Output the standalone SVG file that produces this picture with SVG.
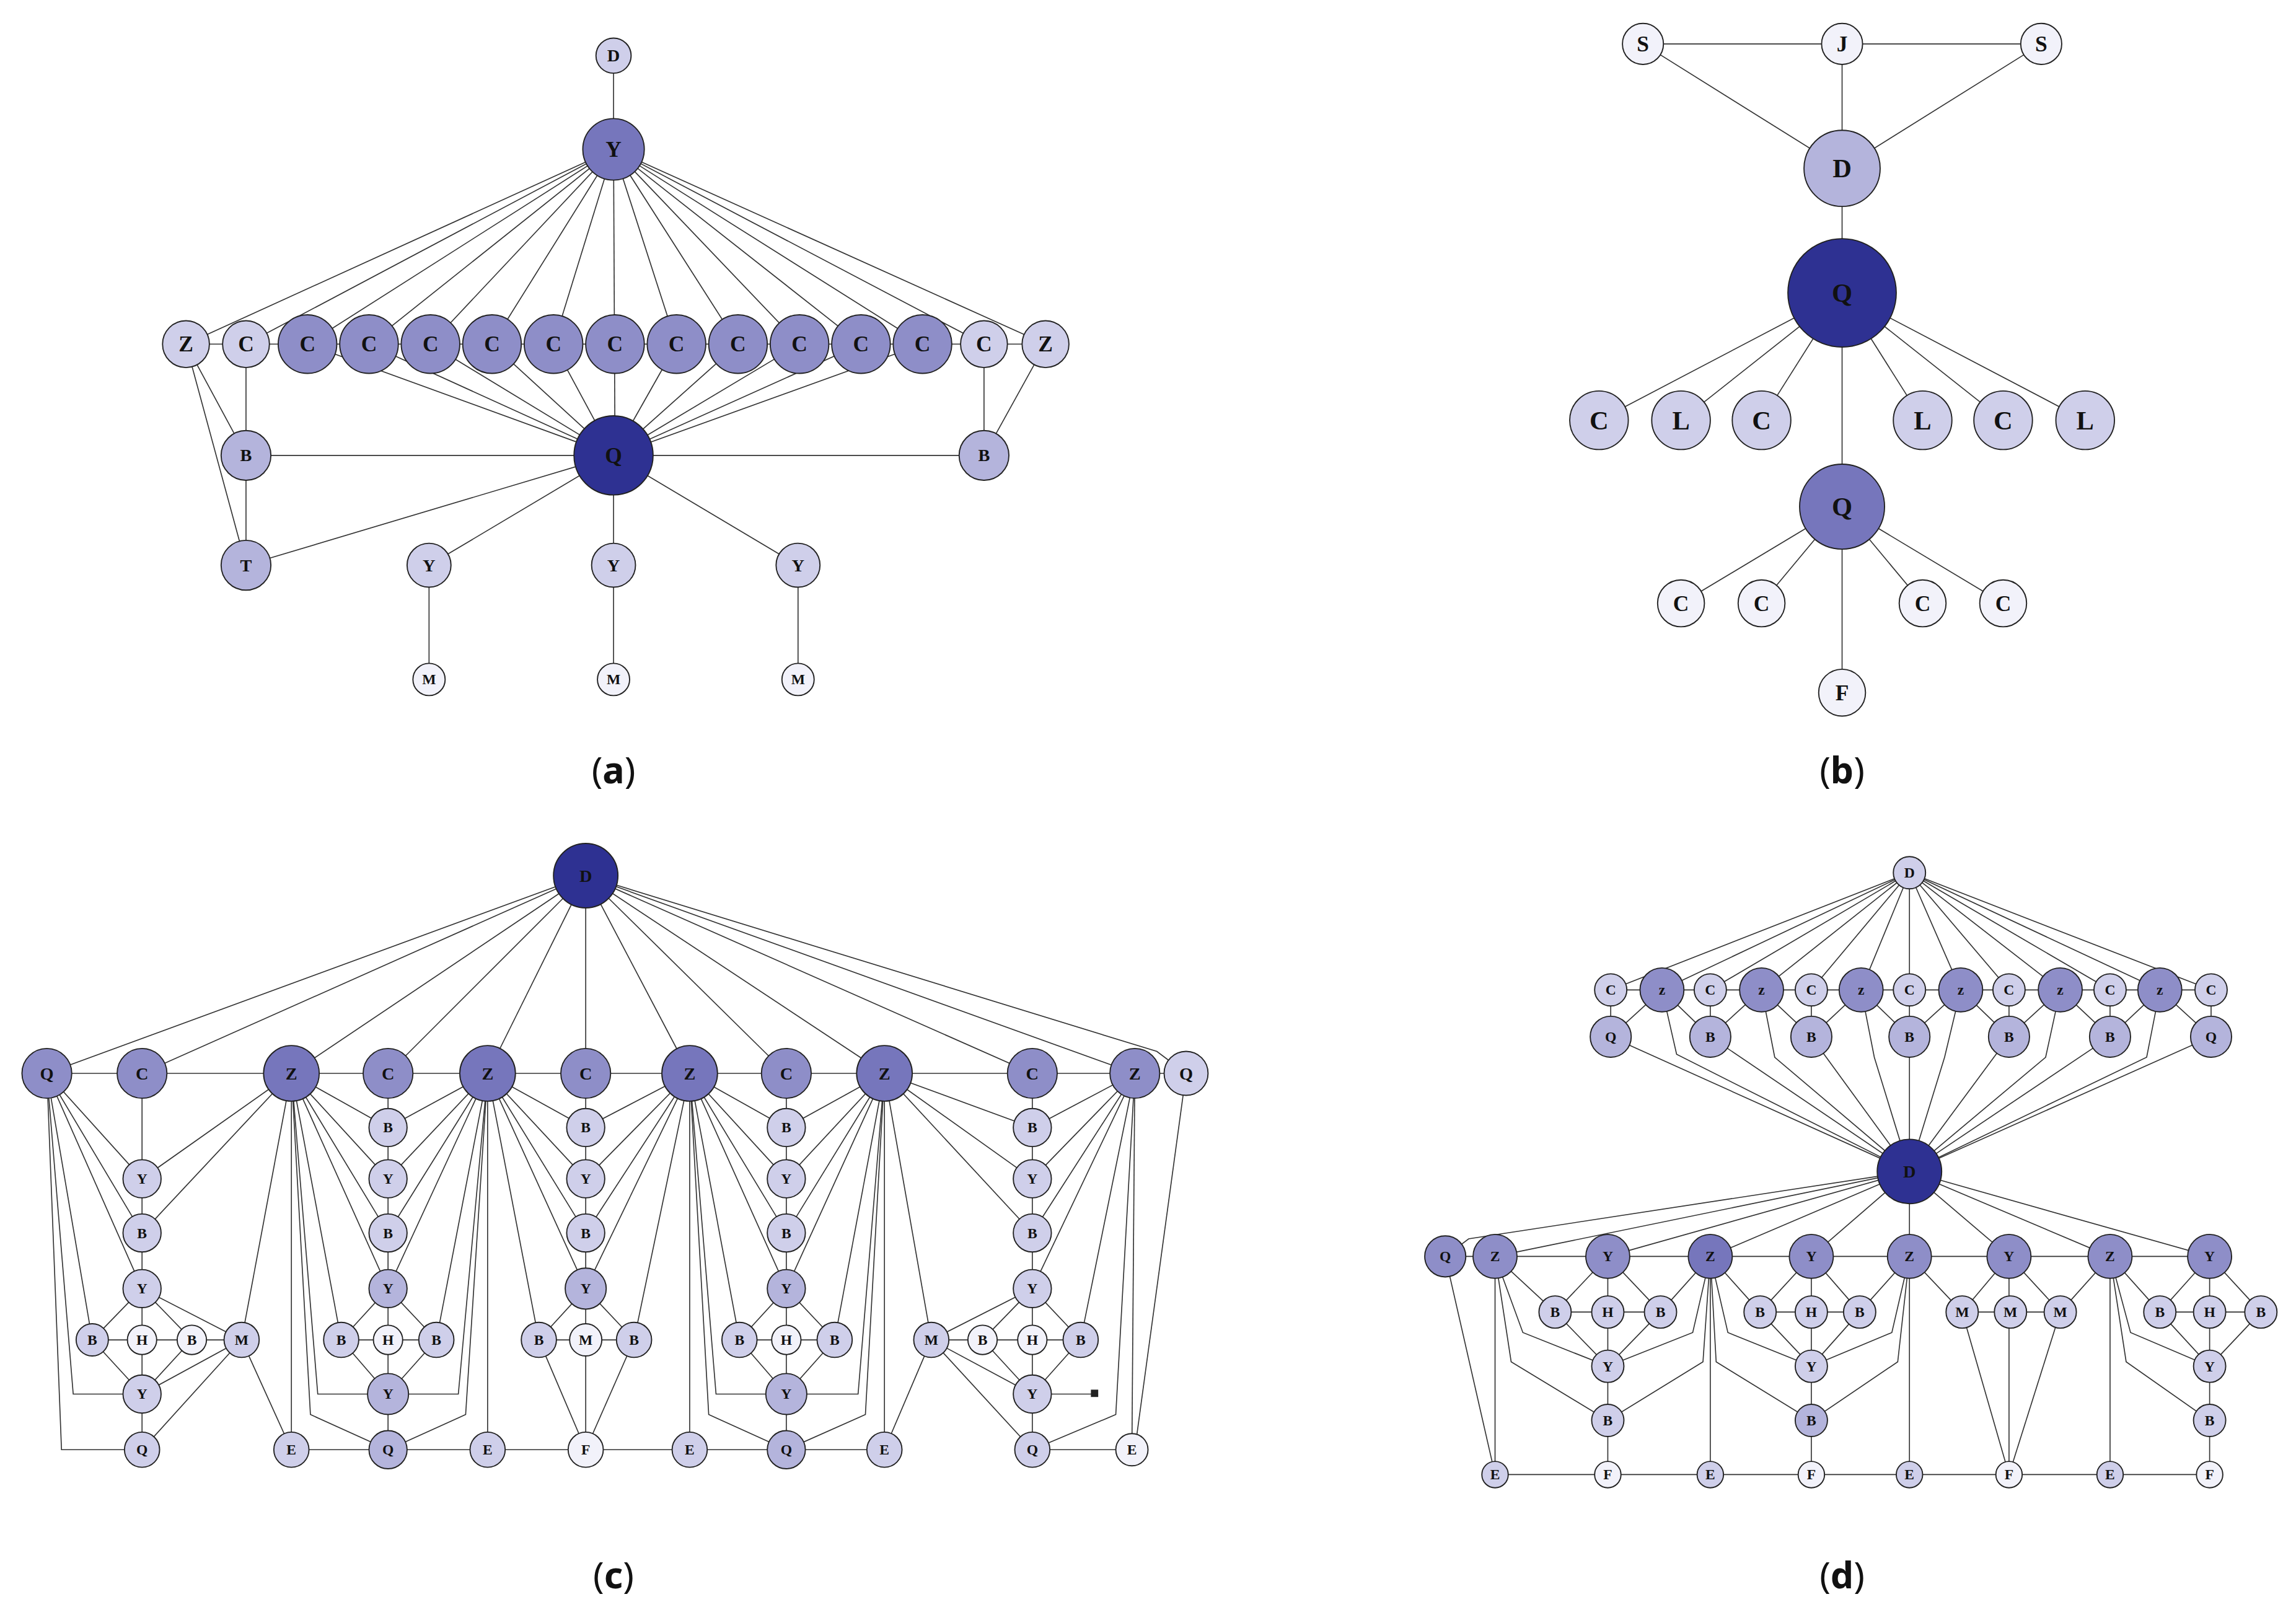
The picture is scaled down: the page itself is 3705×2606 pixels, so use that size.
<svg xmlns="http://www.w3.org/2000/svg" width="3705" height="2606" viewBox="0 0 3705 2606">
<style>
.e line,.e polyline{stroke:#333;stroke-width:0.7;fill:none}
circle{stroke:#222;stroke-width:0.8}
.k{fill:#2e3192}.m{fill:#7676bc}.n{fill:#8e8ec8}.l{fill:#b4b4dc}.p{fill:#cfcfea}.w{fill:#f2f2fa}
text{font-family:"Liberation Serif","DejaVu Serif",serif;font-weight:bold;text-anchor:middle;dominant-baseline:central;fill:#111}
.s{font-size:10px}.t{font-size:12px}.u{font-size:15px}.v{font-size:18px}
.cap{font-family:"Noto Sans","Liberation Sans",sans-serif;font-weight:normal;font-size:25px}
</style>
<rect width="3705" height="2606" fill="#fff"/>
<g transform="scale(2.3629)">
<g class="e" id="edges">
<!-- (a) -->
<line x1="419" y1="38" x2="419" y2="102"/>
<line x1="419" y1="102" x2="127" y2="235"/><line x1="419" y1="102" x2="168" y2="235"/><line x1="419" y1="102" x2="210" y2="235"/><line x1="419" y1="102" x2="252" y2="235"/><line x1="419" y1="102" x2="294" y2="235"/><line x1="419" y1="102" x2="336" y2="235"/><line x1="419" y1="102" x2="378" y2="235"/><line x1="419" y1="102" x2="420" y2="311"/><line x1="419" y1="102" x2="462" y2="235"/><line x1="419" y1="102" x2="504" y2="235"/><line x1="419" y1="102" x2="546" y2="235"/><line x1="419" y1="102" x2="588" y2="235"/><line x1="419" y1="102" x2="630" y2="235"/><line x1="419" y1="102" x2="672" y2="235"/><line x1="419" y1="102" x2="714" y2="235"/>
<line x1="127" y1="235" x2="714" y2="235"/>
<line x1="419" y1="311" x2="210" y2="235"/><line x1="419" y1="311" x2="252" y2="235"/><line x1="419" y1="311" x2="294" y2="235"/><line x1="419" y1="311" x2="336" y2="235"/><line x1="419" y1="311" x2="378" y2="235"/><line x1="419" y1="311" x2="462" y2="235"/><line x1="419" y1="311" x2="504" y2="235"/><line x1="419" y1="311" x2="546" y2="235"/><line x1="419" y1="311" x2="588" y2="235"/><line x1="419" y1="311" x2="630" y2="235"/>
<line x1="127" y1="235" x2="168" y2="311"/><line x1="127" y1="235" x2="168" y2="386"/><line x1="168" y1="235" x2="168" y2="386"/><line x1="168" y1="311" x2="672" y2="311"/><line x1="672" y1="235" x2="672" y2="311"/><line x1="714" y1="235" x2="672" y2="311"/>
<line x1="419" y1="311" x2="168" y2="386"/><line x1="419" y1="311" x2="293" y2="386"/><line x1="419" y1="311" x2="419" y2="464"/><line x1="419" y1="311" x2="545" y2="386"/><line x1="293" y1="386" x2="293" y2="464"/><line x1="545" y1="386" x2="545" y2="464"/>
<!-- (b) -->
<line x1="1122" y1="30" x2="1394" y2="30"/><line x1="1122" y1="30" x2="1258" y2="115"/><line x1="1394" y1="30" x2="1258" y2="115"/><line x1="1258" y1="30" x2="1258" y2="473"/>
<line x1="1258" y1="200" x2="1092" y2="287"/><line x1="1258" y1="200" x2="1148" y2="287"/><line x1="1258" y1="200" x2="1203" y2="287"/><line x1="1258" y1="200" x2="1313" y2="287"/><line x1="1258" y1="200" x2="1368" y2="287"/><line x1="1258" y1="200" x2="1424" y2="287"/>
<line x1="1258" y1="346" x2="1148" y2="412"/><line x1="1258" y1="346" x2="1203" y2="412"/><line x1="1258" y1="346" x2="1313" y2="412"/><line x1="1258" y1="346" x2="1368" y2="412"/>
<!-- (c) -->
<line x1="400" y1="598" x2="32" y2="733"/><line x1="400" y1="598" x2="97" y2="733"/><line x1="400" y1="598" x2="199" y2="733"/><line x1="400" y1="598" x2="265" y2="733"/><line x1="400" y1="598" x2="333" y2="733"/><line x1="400" y1="598" x2="400" y2="733"/><line x1="400" y1="598" x2="471" y2="733"/><line x1="400" y1="598" x2="537" y2="733"/><line x1="400" y1="598" x2="604" y2="733"/><line x1="400" y1="598" x2="705" y2="733"/><line x1="400" y1="598" x2="775" y2="733"/><polyline points="400,598 790,718 810,733"/>
<line x1="32" y1="733" x2="810" y2="733"/>
<line x1="97" y1="733" x2="97" y2="990"/><line x1="63" y1="915" x2="165" y2="915"/>
<line x1="97" y1="880" x2="63" y2="915"/><line x1="97" y1="880" x2="131" y2="915"/><line x1="97" y1="880" x2="165" y2="915"/><line x1="63" y1="915" x2="97" y2="952"/><line x1="131" y1="915" x2="97" y2="952"/><line x1="165" y1="915" x2="97" y2="952"/><line x1="165" y1="915" x2="97" y2="990"/>
<line x1="32" y1="733" x2="97" y2="805"/><line x1="32" y1="733" x2="97" y2="842"/><line x1="32" y1="733" x2="97" y2="880"/><line x1="32" y1="733" x2="63" y2="915"/><polyline points="32,733 50,952 97,952"/><polyline points="32,733 42,990 97,990"/>
<line x1="199" y1="733" x2="97" y2="805"/><line x1="199" y1="733" x2="97" y2="842"/><line x1="199" y1="733" x2="165" y2="915"/><line x1="199" y1="733" x2="199" y2="990"/><line x1="165" y1="915" x2="199" y2="990"/>
<line x1="265" y1="733" x2="265" y2="990"/><line x1="233" y1="915" x2="298" y2="915"/>
<line x1="265" y1="880" x2="233" y2="915"/><line x1="265" y1="880" x2="298" y2="915"/><line x1="233" y1="915" x2="265" y2="952"/><line x1="298" y1="915" x2="265" y2="952"/>
<line x1="199" y1="733" x2="265" y2="770"/><line x1="199" y1="733" x2="265" y2="805"/><line x1="199" y1="733" x2="265" y2="842"/><line x1="199" y1="733" x2="265" y2="880"/><line x1="199" y1="733" x2="233" y2="915"/><polyline points="199,733 217,952 265,952"/><polyline points="199,733 212,966 265,990"/>
<line x1="333" y1="733" x2="265" y2="770"/><line x1="333" y1="733" x2="265" y2="805"/><line x1="333" y1="733" x2="265" y2="842"/><line x1="333" y1="733" x2="265" y2="880"/><line x1="333" y1="733" x2="298" y2="915"/><polyline points="333,733 313,952 265,952"/><polyline points="333,733 318,966 265,990"/><line x1="333" y1="733" x2="333" y2="990"/>
<line x1="400" y1="733" x2="400" y2="990"/><line x1="368" y1="915" x2="433" y2="915"/>
<line x1="400" y1="880" x2="368" y2="915"/><line x1="400" y1="880" x2="433" y2="915"/><line x1="368" y1="915" x2="400" y2="990"/><line x1="433" y1="915" x2="400" y2="990"/>
<line x1="333" y1="733" x2="400" y2="770"/><line x1="333" y1="733" x2="400" y2="805"/><line x1="333" y1="733" x2="400" y2="842"/><line x1="333" y1="733" x2="400" y2="880"/><line x1="333" y1="733" x2="368" y2="915"/>
<line x1="471" y1="733" x2="400" y2="770"/><line x1="471" y1="733" x2="400" y2="805"/><line x1="471" y1="733" x2="400" y2="842"/><line x1="471" y1="733" x2="400" y2="880"/><line x1="471" y1="733" x2="433" y2="915"/>
<line x1="537" y1="733" x2="537" y2="990"/><line x1="505" y1="915" x2="570" y2="915"/>
<line x1="537" y1="880" x2="505" y2="915"/><line x1="537" y1="880" x2="570" y2="915"/><line x1="505" y1="915" x2="537" y2="952"/><line x1="570" y1="915" x2="537" y2="952"/>
<line x1="471" y1="733" x2="537" y2="770"/><line x1="471" y1="733" x2="537" y2="805"/><line x1="471" y1="733" x2="537" y2="842"/><line x1="471" y1="733" x2="537" y2="880"/><line x1="471" y1="733" x2="505" y2="915"/><polyline points="471,733 489,952 537,952"/><polyline points="471,733 484,966 537,990"/><line x1="471" y1="733" x2="471" y2="990"/>
<line x1="604" y1="733" x2="537" y2="770"/><line x1="604" y1="733" x2="537" y2="805"/><line x1="604" y1="733" x2="537" y2="842"/><line x1="604" y1="733" x2="537" y2="880"/><line x1="604" y1="733" x2="570" y2="915"/><polyline points="604,733 586,952 537,952"/><polyline points="604,733 591,966 537,990"/><line x1="604" y1="733" x2="604" y2="990"/>
<line x1="705" y1="733" x2="705" y2="990"/><line x1="636" y1="915" x2="738" y2="915"/>
<line x1="705" y1="880" x2="636" y2="915"/><line x1="705" y1="880" x2="671" y2="915"/><line x1="705" y1="880" x2="738" y2="915"/><line x1="636" y1="915" x2="705" y2="952"/><line x1="671" y1="915" x2="705" y2="952"/><line x1="738" y1="915" x2="705" y2="952"/><line x1="636" y1="915" x2="705" y2="990"/><line x1="636" y1="915" x2="604" y2="990"/>
<line x1="604" y1="733" x2="705" y2="770"/><line x1="604" y1="733" x2="705" y2="805"/><line x1="604" y1="733" x2="705" y2="842"/><line x1="604" y1="733" x2="636" y2="915"/>
<line x1="775" y1="733" x2="705" y2="770"/><line x1="775" y1="733" x2="705" y2="805"/><line x1="775" y1="733" x2="705" y2="842"/><line x1="775" y1="733" x2="705" y2="880"/><line x1="775" y1="733" x2="738" y2="915"/><line x1="705" y1="952" x2="748" y2="952"/><polyline points="775,733 762,966 705,990"/><line x1="775" y1="733" x2="773" y2="990"/><line x1="810" y1="733" x2="775" y2="990"/>
<line x1="199" y1="990" x2="604" y2="990"/><line x1="705" y1="990" x2="773" y2="990"/>
<!-- (d) -->
<line x1="1304" y1="596" x2="1100" y2="676"/><line x1="1304" y1="596" x2="1135" y2="676"/><line x1="1304" y1="596" x2="1168" y2="676"/><line x1="1304" y1="596" x2="1203" y2="676"/><line x1="1304" y1="596" x2="1237" y2="676"/><line x1="1304" y1="596" x2="1271" y2="676"/><line x1="1304" y1="596" x2="1304" y2="676"/><line x1="1304" y1="596" x2="1339" y2="676"/><line x1="1304" y1="596" x2="1372" y2="676"/><line x1="1304" y1="596" x2="1407" y2="676"/><line x1="1304" y1="596" x2="1441" y2="676"/><line x1="1304" y1="596" x2="1475" y2="676"/><line x1="1304" y1="596" x2="1510" y2="676"/>
<line x1="1100" y1="676" x2="1510" y2="676"/>
<line x1="1100" y1="676" x2="1100" y2="708"/><line x1="1168" y1="676" x2="1168" y2="708"/><line x1="1237" y1="676" x2="1237" y2="708"/><line x1="1304" y1="676" x2="1304" y2="858"/><line x1="1372" y1="676" x2="1372" y2="708"/><line x1="1441" y1="676" x2="1441" y2="708"/><line x1="1510" y1="676" x2="1510" y2="708"/>
<line x1="1135" y1="676" x2="1100" y2="708"/><line x1="1135" y1="676" x2="1168" y2="708"/><line x1="1203" y1="676" x2="1168" y2="708"/><line x1="1203" y1="676" x2="1237" y2="708"/><line x1="1271" y1="676" x2="1237" y2="708"/><line x1="1271" y1="676" x2="1304" y2="708"/><line x1="1339" y1="676" x2="1304" y2="708"/><line x1="1339" y1="676" x2="1372" y2="708"/><line x1="1407" y1="676" x2="1372" y2="708"/><line x1="1407" y1="676" x2="1441" y2="708"/><line x1="1475" y1="676" x2="1441" y2="708"/><line x1="1475" y1="676" x2="1510" y2="708"/>
<line x1="1304" y1="800" x2="1100" y2="708"/><line x1="1304" y1="800" x2="1168" y2="708"/><line x1="1304" y1="800" x2="1237" y2="708"/><line x1="1304" y1="800" x2="1372" y2="708"/><line x1="1304" y1="800" x2="1441" y2="708"/><line x1="1304" y1="800" x2="1510" y2="708"/>
<polyline points="1304,800 1145,720 1135,676"/><polyline points="1304,800 1212,722 1203,676"/><polyline points="1304,800 1280,722 1271,676"/><polyline points="1304,800 1328,722 1339,676"/><polyline points="1304,800 1397,722 1407,676"/><polyline points="1304,800 1466,722 1475,676"/>
<polyline points="1304,800 1003,846 987,858"/><line x1="1304" y1="800" x2="1021" y2="858"/><line x1="1304" y1="800" x2="1098" y2="858"/><line x1="1304" y1="800" x2="1168" y2="858"/><line x1="1304" y1="800" x2="1237" y2="858"/><line x1="1304" y1="800" x2="1372" y2="858"/><line x1="1304" y1="800" x2="1441" y2="858"/><line x1="1304" y1="800" x2="1509" y2="858"/>
<line x1="987" y1="858" x2="1509" y2="858"/>
<line x1="1098" y1="858" x2="1098" y2="1007"/><line x1="1062" y1="896" x2="1134" y2="896"/><line x1="1098" y1="858" x2="1062" y2="896"/><line x1="1098" y1="858" x2="1134" y2="896"/><line x1="1062" y1="896" x2="1098" y2="933"/><line x1="1134" y1="896" x2="1098" y2="933"/>
<line x1="1021" y1="858" x2="1062" y2="896"/><polyline points="1021,858 1040,910 1098,933"/><polyline points="1021,858 1032,930 1098,970"/><line x1="1021" y1="858" x2="1021" y2="1007"/><line x1="987" y1="858" x2="1021" y2="1007"/>
<line x1="1168" y1="858" x2="1134" y2="896"/><polyline points="1168,858 1156,910 1098,933"/><polyline points="1168,858 1163,930 1098,970"/><line x1="1168" y1="858" x2="1168" y2="1007"/>
<line x1="1237" y1="858" x2="1237" y2="1007"/><line x1="1202" y1="896" x2="1270" y2="896"/><line x1="1237" y1="858" x2="1202" y2="896"/><line x1="1237" y1="858" x2="1270" y2="896"/><line x1="1202" y1="896" x2="1237" y2="933"/><line x1="1270" y1="896" x2="1237" y2="933"/>
<line x1="1168" y1="858" x2="1202" y2="896"/><polyline points="1168,858 1180,910 1237,933"/><polyline points="1168,858 1172,930 1237,970"/>
<line x1="1304" y1="858" x2="1270" y2="896"/><polyline points="1304,858 1292,910 1237,933"/><polyline points="1304,858 1296,930 1237,970"/><line x1="1304" y1="858" x2="1304" y2="1007"/>
<line x1="1304" y1="858" x2="1340" y2="896"/><line x1="1372" y1="858" x2="1340" y2="896"/><line x1="1372" y1="858" x2="1372" y2="1007"/><line x1="1372" y1="858" x2="1407" y2="896"/><line x1="1441" y1="858" x2="1407" y2="896"/><line x1="1340" y1="896" x2="1407" y2="896"/><line x1="1340" y1="896" x2="1372" y2="1007"/><line x1="1407" y1="896" x2="1372" y2="1007"/>
<line x1="1509" y1="858" x2="1509" y2="1007"/><line x1="1475" y1="896" x2="1544" y2="896"/><line x1="1509" y1="858" x2="1475" y2="896"/><line x1="1509" y1="858" x2="1544" y2="896"/><line x1="1475" y1="896" x2="1509" y2="933"/><line x1="1544" y1="896" x2="1509" y2="933"/>
<line x1="1441" y1="858" x2="1475" y2="896"/><polyline points="1441,858 1455,910 1509,933"/><polyline points="1441,858 1452,930 1509,970"/><line x1="1441" y1="858" x2="1441" y2="1007"/>
<line x1="1021" y1="1007" x2="1509" y2="1007"/>
</g>
<!-- (a) nodes -->
<g id="a-D"><circle cx="419" cy="38" r="12" class="p"/><text x="419" y="38" class="t">D</text></g>
<g id="a-Y"><circle cx="419" cy="102" r="21" class="m"/><text x="419" y="102" class="u">Y</text></g>
<g id="a-Z1"><circle cx="127" cy="235" r="16" class="p"/><text x="127" y="235" class="u">Z</text></g>
<g id="a-C0"><circle cx="168" cy="235" r="16" class="p"/><text x="168" y="235" class="u">C</text></g>
<g id="a-C1"><circle cx="210" cy="235" r="20" class="n"/><text x="210" y="235" class="u">C</text></g>
<g id="a-C2"><circle cx="252" cy="235" r="20" class="n"/><text x="252" y="235" class="u">C</text></g>
<g id="a-C3"><circle cx="294" cy="235" r="20" class="n"/><text x="294" y="235" class="u">C</text></g>
<g id="a-C4"><circle cx="336" cy="235" r="20" class="n"/><text x="336" y="235" class="u">C</text></g>
<g id="a-C5"><circle cx="378" cy="235" r="20" class="n"/><text x="378" y="235" class="u">C</text></g>
<g id="a-C6"><circle cx="420" cy="235" r="20" class="n"/><text x="420" y="235" class="u">C</text></g>
<g id="a-C7"><circle cx="462" cy="235" r="20" class="n"/><text x="462" y="235" class="u">C</text></g>
<g id="a-C8"><circle cx="504" cy="235" r="20" class="n"/><text x="504" y="235" class="u">C</text></g>
<g id="a-C9"><circle cx="546" cy="235" r="20" class="n"/><text x="546" y="235" class="u">C</text></g>
<g id="a-C10"><circle cx="588" cy="235" r="20" class="n"/><text x="588" y="235" class="u">C</text></g>
<g id="a-C11"><circle cx="630" cy="235" r="20" class="n"/><text x="630" y="235" class="u">C</text></g>
<g id="a-C12"><circle cx="672" cy="235" r="16" class="p"/><text x="672" y="235" class="u">C</text></g>
<g id="a-Z2"><circle cx="714" cy="235" r="16" class="p"/><text x="714" y="235" class="u">Z</text></g>
<g id="a-B1"><circle cx="168" cy="311" r="17" class="l"/><text x="168" y="311" class="t">B</text></g>
<g id="a-Q"><circle cx="419" cy="311" r="27" class="k"/><text x="419" y="311" class="u">Q</text></g>
<g id="a-B2"><circle cx="672" cy="311" r="17" class="l"/><text x="672" y="311" class="t">B</text></g>
<g id="a-T"><circle cx="168" cy="386" r="17" class="l"/><text x="168" y="386" class="t">T</text></g>
<g id="a-Y1"><circle cx="293" cy="386" r="15" class="p"/><text x="293" y="386" class="t">Y</text></g>
<g id="a-Y2"><circle cx="419" cy="386" r="15" class="p"/><text x="419" y="386" class="t">Y</text></g>
<g id="a-Y3"><circle cx="545" cy="386" r="15" class="p"/><text x="545" y="386" class="t">Y</text></g>
<g id="a-M1"><circle cx="293" cy="464" r="11" class="w"/><text x="293" y="464" class="s">M</text></g>
<g id="a-M2"><circle cx="419" cy="464" r="11" class="w"/><text x="419" y="464" class="s">M</text></g>
<g id="a-M3"><circle cx="545" cy="464" r="11" class="w"/><text x="545" y="464" class="s">M</text></g>
<!-- (b) nodes -->
<g id="b-S1"><circle cx="1122" cy="30" r="14" class="w"/><text x="1122" y="30" class="u">S</text></g>
<g id="b-J"><circle cx="1258" cy="30" r="14" class="w"/><text x="1258" y="30" class="u">J</text></g>
<g id="b-S2"><circle cx="1394" cy="30" r="14" class="w"/><text x="1394" y="30" class="u">S</text></g>
<g id="b-D"><circle cx="1258" cy="115" r="26" class="l"/><text x="1258" y="115" class="v">D</text></g>
<g id="b-Q1"><circle cx="1258" cy="200" r="37" class="k"/><text x="1258" y="200" class="v">Q</text></g>
<g id="b-C1"><circle cx="1092" cy="287" r="20" class="p"/><text x="1092" y="287" class="v">C</text></g>
<g id="b-L1"><circle cx="1148" cy="287" r="20" class="p"/><text x="1148" y="287" class="v">L</text></g>
<g id="b-C2"><circle cx="1203" cy="287" r="20" class="p"/><text x="1203" y="287" class="v">C</text></g>
<g id="b-L2"><circle cx="1313" cy="287" r="20" class="p"/><text x="1313" y="287" class="v">L</text></g>
<g id="b-C3"><circle cx="1368" cy="287" r="20" class="p"/><text x="1368" y="287" class="v">C</text></g>
<g id="b-L3"><circle cx="1424" cy="287" r="20" class="p"/><text x="1424" y="287" class="v">L</text></g>
<g id="b-Q2"><circle cx="1258" cy="346" r="29" class="m"/><text x="1258" y="346" class="v">Q</text></g>
<g id="b-C4"><circle cx="1148" cy="412" r="16" class="w"/><text x="1148" y="412" class="u">C</text></g>
<g id="b-C5"><circle cx="1203" cy="412" r="16" class="w"/><text x="1203" y="412" class="u">C</text></g>
<g id="b-C6"><circle cx="1313" cy="412" r="16" class="w"/><text x="1313" y="412" class="u">C</text></g>
<g id="b-C7"><circle cx="1368" cy="412" r="16" class="w"/><text x="1368" y="412" class="u">C</text></g>
<g id="b-F"><circle cx="1258" cy="473" r="16" class="w"/><text x="1258" y="473" class="u">F</text></g>
<!-- (c) nodes -->
<g id="c-D"><circle cx="400" cy="598" r="22" class="k"/><text x="400" y="598" class="t">D</text></g>
<g id="c-Q0"><circle cx="32" cy="733" r="17" class="n"/><text x="32" y="733" class="t">Q</text></g>
<g id="c-C1"><circle cx="97" cy="733" r="17" class="n"/><text x="97" y="733" class="t">C</text></g>
<g id="c-Z1"><circle cx="199" cy="733" r="19" class="m"/><text x="199" y="733" class="t">Z</text></g>
<g id="c-C2"><circle cx="265" cy="733" r="17" class="n"/><text x="265" y="733" class="t">C</text></g>
<g id="c-Z2"><circle cx="333" cy="733" r="19" class="m"/><text x="333" y="733" class="t">Z</text></g>
<g id="c-C3"><circle cx="400" cy="733" r="17" class="n"/><text x="400" y="733" class="t">C</text></g>
<g id="c-Z3"><circle cx="471" cy="733" r="19" class="m"/><text x="471" y="733" class="t">Z</text></g>
<g id="c-C4"><circle cx="537" cy="733" r="17" class="n"/><text x="537" y="733" class="t">C</text></g>
<g id="c-Z4"><circle cx="604" cy="733" r="19" class="m"/><text x="604" y="733" class="t">Z</text></g>
<g id="c-C5"><circle cx="705" cy="733" r="17" class="n"/><text x="705" y="733" class="t">C</text></g>
<g id="c-Z5"><circle cx="775" cy="733" r="17" class="n"/><text x="775" y="733" class="t">Z</text></g>
<g id="c-Q6"><circle cx="810" cy="733" r="15" class="p"/><text x="810" y="733" class="t">Q</text></g>
<g id="c-col1">
<circle cx="97" cy="805" r="13" class="p"/><text x="97" y="805" class="s">Y</text>
<circle cx="97" cy="842" r="13" class="p"/><text x="97" y="842" class="s">B</text>
<circle cx="97" cy="880" r="13" class="p"/><text x="97" y="880" class="s">Y</text>
<circle cx="63" cy="915" r="11" class="p"/><text x="63" y="915" class="s">B</text>
<circle cx="97" cy="915" r="10" class="w"/><text x="97" y="915" class="s">H</text>
<circle cx="131" cy="915" r="10" class="w"/><text x="131" y="915" class="s">B</text>
<circle cx="165" cy="915" r="12" class="p"/><text x="165" y="915" class="s">M</text>
<circle cx="97" cy="952" r="13" class="p"/><text x="97" y="952" class="s">Y</text>
<circle cx="97" cy="990" r="12" class="p"/><text x="97" y="990" class="s">Q</text>
</g>
<g id="c-col2">
<circle cx="265" cy="770" r="13" class="p"/><text x="265" y="770" class="s">B</text>
<circle cx="265" cy="805" r="13" class="p"/><text x="265" y="805" class="s">Y</text>
<circle cx="265" cy="842" r="13" class="p"/><text x="265" y="842" class="s">B</text>
<circle cx="265" cy="880" r="13" class="l"/><text x="265" y="880" class="s">Y</text>
<circle cx="233" cy="915" r="12" class="p"/><text x="233" y="915" class="s">B</text>
<circle cx="265" cy="915" r="10" class="w"/><text x="265" y="915" class="s">H</text>
<circle cx="298" cy="915" r="12" class="p"/><text x="298" y="915" class="s">B</text>
<circle cx="265" cy="952" r="14" class="l"/><text x="265" y="952" class="s">Y</text>
<circle cx="265" cy="990" r="13" class="l"/><text x="265" y="990" class="s">Q</text>
</g>
<g id="c-col3">
<circle cx="400" cy="770" r="13" class="p"/><text x="400" y="770" class="s">B</text>
<circle cx="400" cy="805" r="13" class="p"/><text x="400" y="805" class="s">Y</text>
<circle cx="400" cy="842" r="13" class="p"/><text x="400" y="842" class="s">B</text>
<circle cx="400" cy="880" r="14" class="l"/><text x="400" y="880" class="s">Y</text>
<circle cx="368" cy="915" r="12" class="p"/><text x="368" y="915" class="s">B</text>
<circle cx="400" cy="915" r="11" class="w"/><text x="400" y="915" class="s">M</text>
<circle cx="433" cy="915" r="12" class="p"/><text x="433" y="915" class="s">B</text>
<circle cx="400" cy="990" r="12" class="w"/><text x="400" y="990" class="s">F</text>
</g>
<g id="c-col4">
<circle cx="537" cy="770" r="13" class="p"/><text x="537" y="770" class="s">B</text>
<circle cx="537" cy="805" r="13" class="p"/><text x="537" y="805" class="s">Y</text>
<circle cx="537" cy="842" r="13" class="p"/><text x="537" y="842" class="s">B</text>
<circle cx="537" cy="880" r="13" class="l"/><text x="537" y="880" class="s">Y</text>
<circle cx="505" cy="915" r="12" class="p"/><text x="505" y="915" class="s">B</text>
<circle cx="537" cy="915" r="10" class="w"/><text x="537" y="915" class="s">H</text>
<circle cx="570" cy="915" r="12" class="p"/><text x="570" y="915" class="s">B</text>
<circle cx="537" cy="952" r="14" class="l"/><text x="537" y="952" class="s">Y</text>
<circle cx="537" cy="990" r="13" class="l"/><text x="537" y="990" class="s">Q</text>
</g>
<g id="c-col5">
<circle cx="705" cy="770" r="13" class="p"/><text x="705" y="770" class="s">B</text>
<circle cx="705" cy="805" r="13" class="p"/><text x="705" y="805" class="s">Y</text>
<circle cx="705" cy="842" r="13" class="p"/><text x="705" y="842" class="s">B</text>
<circle cx="705" cy="880" r="13" class="p"/><text x="705" y="880" class="s">Y</text>
<circle cx="636" cy="915" r="12" class="p"/><text x="636" y="915" class="s">M</text>
<circle cx="671" cy="915" r="10" class="w"/><text x="671" y="915" class="s">B</text>
<circle cx="705" cy="915" r="10" class="w"/><text x="705" y="915" class="s">H</text>
<circle cx="738" cy="915" r="12" class="p"/><text x="738" y="915" class="s">B</text>
<circle cx="705" cy="952" r="13" class="p"/><text x="705" y="952" class="s">Y</text>
<circle cx="705" cy="990" r="12" class="p"/><text x="705" y="990" class="s">Q</text>
<rect x="745" y="949" width="5" height="5" fill="#222"/>
</g>
<g id="c-E">
<circle cx="199" cy="990" r="12" class="p"/><text x="199" y="990" class="s">E</text>
<circle cx="333" cy="990" r="12" class="p"/><text x="333" y="990" class="s">E</text>
<circle cx="471" cy="990" r="12" class="p"/><text x="471" y="990" class="s">E</text>
<circle cx="604" cy="990" r="12" class="p"/><text x="604" y="990" class="s">E</text>
<circle cx="773" cy="990" r="11" class="w"/><text x="773" y="990" class="s">E</text>
</g>
<!-- (d) nodes -->
<g id="d-Dtop"><circle cx="1304" cy="596" r="11" class="p"/><text x="1304" y="596" class="s">D</text></g>
<g id="d-row1">
<circle cx="1100" cy="676" r="11" class="p"/><text x="1100" y="676" class="s">C</text>
<circle cx="1135" cy="676" r="15" class="n"/><text x="1135" y="676" class="s">z</text>
<circle cx="1168" cy="676" r="11" class="p"/><text x="1168" y="676" class="s">C</text>
<circle cx="1203" cy="676" r="15" class="n"/><text x="1203" y="676" class="s">z</text>
<circle cx="1237" cy="676" r="11" class="p"/><text x="1237" y="676" class="s">C</text>
<circle cx="1271" cy="676" r="15" class="n"/><text x="1271" y="676" class="s">z</text>
<circle cx="1304" cy="676" r="11" class="p"/><text x="1304" y="676" class="s">C</text>
<circle cx="1339" cy="676" r="15" class="n"/><text x="1339" y="676" class="s">z</text>
<circle cx="1372" cy="676" r="11" class="p"/><text x="1372" y="676" class="s">C</text>
<circle cx="1407" cy="676" r="15" class="n"/><text x="1407" y="676" class="s">z</text>
<circle cx="1441" cy="676" r="11" class="p"/><text x="1441" y="676" class="s">C</text>
<circle cx="1475" cy="676" r="15" class="n"/><text x="1475" y="676" class="s">z</text>
<circle cx="1510" cy="676" r="11" class="p"/><text x="1510" y="676" class="s">C</text>
</g>
<g id="d-row2">
<circle cx="1100" cy="708" r="14" class="l"/><text x="1100" y="708" class="s">Q</text>
<circle cx="1168" cy="708" r="14" class="l"/><text x="1168" y="708" class="s">B</text>
<circle cx="1237" cy="708" r="14" class="l"/><text x="1237" y="708" class="s">B</text>
<circle cx="1304" cy="708" r="14" class="l"/><text x="1304" y="708" class="s">B</text>
<circle cx="1372" cy="708" r="14" class="l"/><text x="1372" y="708" class="s">B</text>
<circle cx="1441" cy="708" r="14" class="l"/><text x="1441" y="708" class="s">B</text>
<circle cx="1510" cy="708" r="14" class="l"/><text x="1510" y="708" class="s">Q</text>
</g>
<g id="d-D"><circle cx="1304" cy="800" r="22" class="k"/><text x="1304" y="800" class="t">D</text></g>
<g id="d-row3">
<circle cx="987" cy="858" r="14" class="n"/><text x="987" y="858" class="s">Q</text>
<circle cx="1021" cy="858" r="15" class="n"/><text x="1021" y="858" class="s">Z</text>
<circle cx="1098" cy="858" r="15" class="n"/><text x="1098" y="858" class="s">Y</text>
<circle cx="1168" cy="858" r="15" class="m"/><text x="1168" y="858" class="s">Z</text>
<circle cx="1237" cy="858" r="15" class="n"/><text x="1237" y="858" class="s">Y</text>
<circle cx="1304" cy="858" r="15" class="n"/><text x="1304" y="858" class="s">Z</text>
<circle cx="1372" cy="858" r="15" class="n"/><text x="1372" y="858" class="s">Y</text>
<circle cx="1441" cy="858" r="15" class="n"/><text x="1441" y="858" class="s">Z</text>
<circle cx="1509" cy="858" r="15" class="n"/><text x="1509" y="858" class="s">Y</text>
</g>
<g id="d-row4">
<circle cx="1062" cy="896" r="11" class="p"/><text x="1062" y="896" class="s">B</text>
<circle cx="1098" cy="896" r="11" class="p"/><text x="1098" y="896" class="s">H</text>
<circle cx="1134" cy="896" r="11" class="p"/><text x="1134" y="896" class="s">B</text>
<circle cx="1202" cy="896" r="11" class="p"/><text x="1202" y="896" class="s">B</text>
<circle cx="1237" cy="896" r="11" class="p"/><text x="1237" y="896" class="s">H</text>
<circle cx="1270" cy="896" r="11" class="p"/><text x="1270" y="896" class="s">B</text>
<circle cx="1340" cy="896" r="11" class="p"/><text x="1340" y="896" class="s">M</text>
<circle cx="1373" cy="896" r="11" class="p"/><text x="1373" y="896" class="s">M</text>
<circle cx="1407" cy="896" r="11" class="p"/><text x="1407" y="896" class="s">M</text>
<circle cx="1475" cy="896" r="11" class="p"/><text x="1475" y="896" class="s">B</text>
<circle cx="1509" cy="896" r="11" class="p"/><text x="1509" y="896" class="s">H</text>
<circle cx="1544" cy="896" r="11" class="p"/><text x="1544" y="896" class="s">B</text>
</g>
<g id="d-row5">
<circle cx="1098" cy="933" r="11" class="p"/><text x="1098" y="933" class="s">Y</text>
<circle cx="1237" cy="933" r="11" class="p"/><text x="1237" y="933" class="s">Y</text>
<circle cx="1509" cy="933" r="11" class="p"/><text x="1509" y="933" class="s">Y</text>
<circle cx="1098" cy="970" r="11" class="p"/><text x="1098" y="970" class="s">B</text>
<circle cx="1237" cy="970" r="11" class="l"/><text x="1237" y="970" class="s">B</text>
<circle cx="1509" cy="970" r="11" class="p"/><text x="1509" y="970" class="s">B</text>
</g>
<g id="d-row6">
<circle cx="1021" cy="1007" r="9" class="p"/><text x="1021" y="1007" class="s">E</text>
<circle cx="1098" cy="1007" r="9" class="w"/><text x="1098" y="1007" class="s">F</text>
<circle cx="1168" cy="1007" r="9" class="p"/><text x="1168" y="1007" class="s">E</text>
<circle cx="1237" cy="1007" r="9" class="w"/><text x="1237" y="1007" class="s">F</text>
<circle cx="1304" cy="1007" r="9" class="p"/><text x="1304" y="1007" class="s">E</text>
<circle cx="1372" cy="1007" r="9" class="w"/><text x="1372" y="1007" class="s">F</text>
<circle cx="1441" cy="1007" r="9" class="p"/><text x="1441" y="1007" class="s">E</text>
<circle cx="1509" cy="1007" r="9" class="w"/><text x="1509" y="1007" class="s">F</text>
</g>
<g id="captions">
<text x="419" y="525" class="cap">(<tspan font-weight="bold">a</tspan>)</text>
<text x="1258" y="525" class="cap">(<tspan font-weight="bold">b</tspan>)</text>
<text x="419" y="1075" class="cap">(<tspan font-weight="bold">c</tspan>)</text>
<text x="1258" y="1075" class="cap">(<tspan font-weight="bold">d</tspan>)</text>
</g>
</g>
</svg>
